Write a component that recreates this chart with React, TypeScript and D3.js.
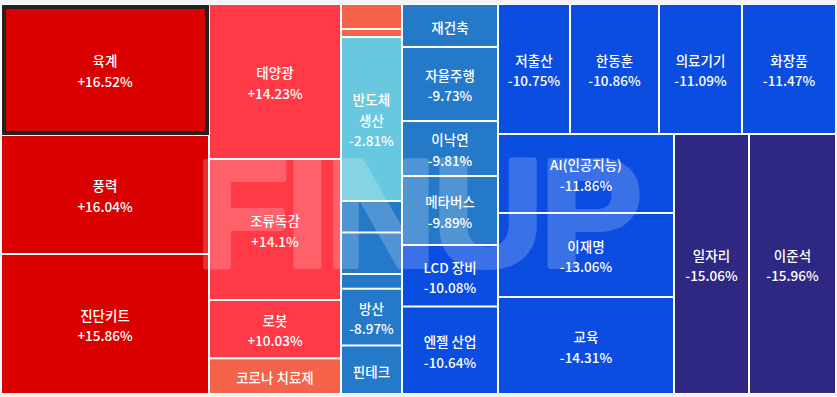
import React, { useMemo } from 'react';
import * as d3 from 'd3';

// ---- data ----
const names: string[] = [
  '육계', '풍력', '진단키트',
  '태양광', '조류독감', '로봇', '코로나 치료제',
  '비료', '남북경협', '반도체 생산', '2차전지', '우크라이나 재건', '건설 대표주', '방산', '핀테크',
  '재건축', '자율주행', '이낙연', '메타버스', 'LCD 장비', '엔젤 산업',
  '저출산', '한동훈', '의료기기', '화장품',
  'AI(인공지능)', '이재명', '교육',
  '일자리', '이준석',
];
const changes: number[] = [
  16.52, 16.04, 15.86,
  14.23, 14.1, 10.03, 8.6,
  5.4, 2.2, -2.81, -4.6, -6.3, -7.9, -8.97, -9.21,
  -9.52, -9.73, -9.81, -9.89, -10.08, -10.64,
  -10.75, -10.86, -11.09, -11.47,
  -11.86, -13.06, -14.31,
  -15.06, -15.96,
];
const sizes: number[] = [
  27248, 24752, 29120,
  20460, 18612, 7696, 4712,
  1525, 488, 10004, 1922, 2532, 897, 3465, 2959,
  4128, 7104, 5280, 6624, 5904, 8400,
  9360, 11570, 10790, 12220,
  13904, 14784, 17072,
  19500, 22620,
];
const highlighted: string[] = ['육계'];
const colorBreaks: number[] = [-15, -10, -3, 0, 10, 15];
const colorRange: string[] = ['#2f2883', '#0a4de0', '#2479c9', '#67c8df', '#f5634a', '#ff3945', '#da0000'];
const watermark = 'FINUP';

const W = 837;
const H = 397;
const LX = 1;
const LY = 4;
const LW = 835;
const LH = 390;
const FONT = '"Noto Sans CJK KR", "Noto Sans", sans-serif';
const FS = 13.5;
const LINE = 20.5;

let ctx: CanvasRenderingContext2D | null = null;
function measure(s: string): number {
  if (!ctx) ctx = document.createElement('canvas').getContext('2d');
  if (!ctx) return s.length * FS;
  ctx.font = `500 ${FS}px ${FONT}`;
  return ctx.measureText(s).width;
}

const fmt = (v: number) => `${v > 0 ? '+' : ''}${v}%`;

type Datum = { name: string; change: number; size: number };

export default function App() {
  const leaves = useMemo(() => {
    const data: Datum[] = names.map((n, i) => ({ name: n, change: changes[i], size: sizes[i] }));
    const root = d3
      .hierarchy<any>({ children: data })
      .sum((d: any) => d.size || 0);
    d3.treemap<any>().tile(d3.treemapSquarify).size([LW, LH])(root);
    return root.leaves() as d3.HierarchyRectangularNode<any>[];
  }, []);

  const color = d3.scaleThreshold<number, string>().domain(colorBreaks).range(colorRange);

  const labelLines = (d: d3.HierarchyRectangularNode<any>): string[] => {
    const w = d.x1 - d.x0 - 2;
    const h = d.y1 - d.y0;
    const avail = w - 6;
    const name: string = d.data.name;
    let nameLines = [name];
    if (measure(name) > avail) nameLines = name.split(' ');
    if (nameLines.some((l) => measure(l) > avail)) return [];
    const val = fmt(d.data.change);
    if ((nameLines.length + 1) * 20 + 13 <= h && measure(val) <= avail) return [...nameLines, val];
    if (nameLines.length * 20 + 13 <= h) return nameLines;
    return [];
  };

  return (
    <svg
      width={W}
      height={H}
      style={{ position: 'absolute', left: 0, top: 0, display: 'block' }}
    >
      <rect x={0} y={0} width={W} height={H} fill="#f4f5f9" />
      <g transform={`translate(${LX},${LY})`}>
        <rect x={0} y={0} width={LW} height={LH} fill="#ffffff" />
        {leaves.map((d, i) => (
          <rect
            key={'r' + i}
            x={d.x0 + 1}
            y={d.y0 + 1}
            width={Math.max(0, d.x1 - d.x0 - 2)}
            height={Math.max(0, d.y1 - d.y0 - 2)}
            fill={color(d.data.change)}
          />
        ))}
        {leaves
          .filter((d) => highlighted.includes(d.data.name))
          .map((d, i) => (
            <rect
              key={'h' + i}
              x={d.x0 + 3}
              y={d.y0 + 3}
              width={d.x1 - d.x0 - 5}
              height={d.y1 - d.y0 - 5}
              fill="none"
              stroke="#222222"
              strokeWidth={4}
            />
          ))}
      </g>
      <g opacity={0.2}>
        <text
          x={196}
          y={266}
          fontFamily='"Liberation Sans", Arial, sans-serif'
          fontWeight={700}
          fontSize={152}
          fill="#ffffff"
          stroke="#ffffff"
          strokeWidth={6}
          strokeLinejoin="round"
          textLength={446}
          lengthAdjust="spacing"
        >
          {watermark}
        </text>
      </g>
      <g transform={`translate(${LX},${LY})`}>
        {leaves.map((d, i) => {
          const lines = labelLines(d);
          const cx = (d.x0 + d.x1) / 2;
          const cy = (d.y0 + d.y1) / 2 + 1;
          return (
            <g key={'t' + i}>
              {lines.map((l, j) => (
                <text
                  key={j}
                  x={cx}
                  y={cy + (j - (lines.length - 1) / 2) * LINE}
                  textAnchor="middle"
                  dominantBaseline="central"
                  fontFamily={FONT}
                  fontWeight={500}
                  fontSize={FS}
                  fill="#ffffff"
                >
                  {l}
                </text>
              ))}
            </g>
          );
        })}
      </g>
    </svg>
  );
}
